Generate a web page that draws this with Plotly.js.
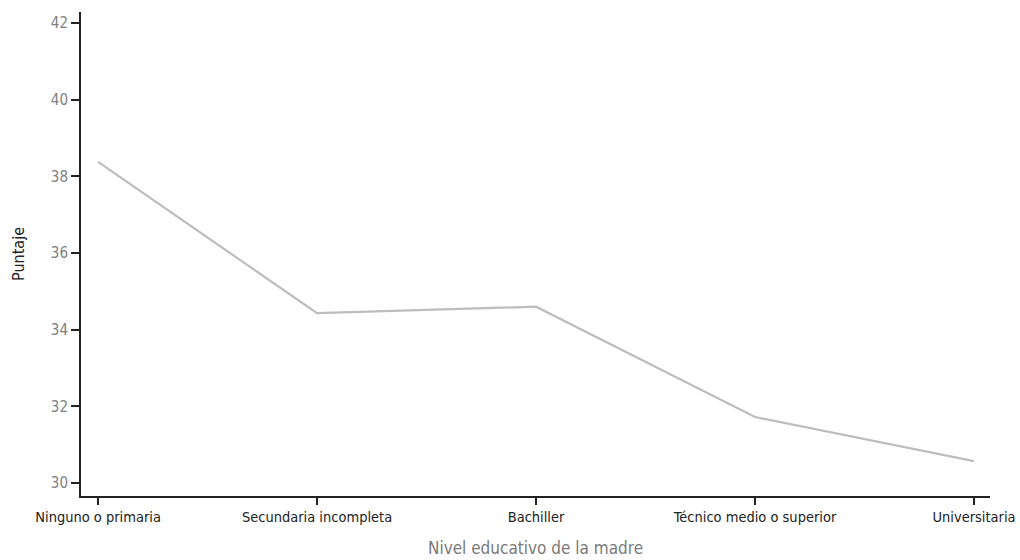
<!DOCTYPE html>
<html>
<head>
<meta charset="utf-8">
<script src="https://cdn.plot.ly/plotly-3.0.1.min.js"></script>
<style>html,body{margin:0;padding:0;background:#fff;}#chart{width:1020px;height:560px;}</style>
</head>
<body>
<div id="chart"></div>
<script>
const categories = ["Ninguno o primaria", "Secundaria incompleta", "Bachiller", "Técnico medio o superior", "Universitaria"];
const puntaje = [38.38, 34.43, 34.6, 31.72, 30.57];
const yTicks = [30, 32, 34, 36, 38, 40, 42];

const FONT = "'Liberation Sans Narrow', 'DejaVu Sans Condensed', 'Roboto Condensed', sans-serif";

const trace = {
  x: categories.map((c, i) => i),
  y: puntaje,
  type: "scatter",
  mode: "lines",
  line: { color: "#bdbdbd", width: 2.2 },
  hoverinfo: "skip"
};

const layout = {
  width: 1020, height: 560,
  margin: { l: 81, r: 30, t: 12, b: 64 },
  paper_bgcolor: "#ffffff", plot_bgcolor: "#ffffff",
  showlegend: false,
  font: { family: FONT, size: 14, color: "#222" },
  xaxis: {
    range: [-0.078, 4.073],
    tickmode: "array",
    tickvals: categories.map((c, i) => i),
    ticktext: categories,
    showgrid: false, zeroline: false,
    showline: true, linecolor: "#222", linewidth: 2,
    ticks: "outside", ticklen: 7, tickwidth: 2, tickcolor: "#222",
    tickfont: { family: FONT, size: 14.5, color: "#222" },
    title: { text: "Nivel educativo de la madre", font: { family: FONT, size: 17, color: "#7a7a7a" }, standoff: 18 }
  },
  yaxis: {
    range: [29.66, 42.29],
    tickmode: "array",
    tickvals: yTicks,
    ticktext: yTicks.map(String),
    showgrid: false, zeroline: false,
    showline: true, linecolor: "#222", linewidth: 2,
    ticks: "outside", ticklen: 8, tickwidth: 2, tickcolor: "#222",
    tickfont: { family: FONT, size: 15, color: "#808080" },
    title: { text: "Puntaje", font: { family: FONT, size: 16, color: "#222" }, standoff: 22 }
  }
};

Plotly.newPlot("chart", [trace], layout, { displayModeBar: false, staticPlot: true });
</script>
</body>
</html>
